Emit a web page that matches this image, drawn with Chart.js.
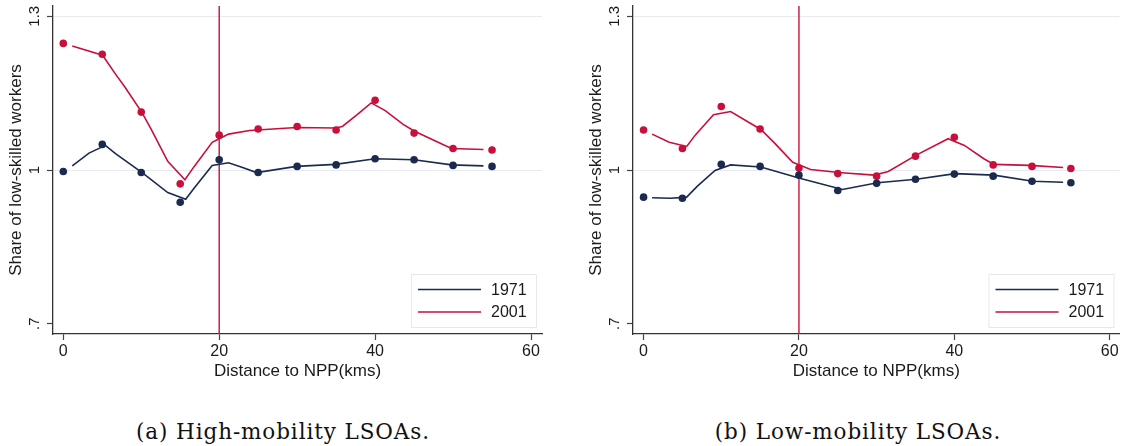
<!DOCTYPE html>
<html>
<head>
<meta charset="utf-8">
<script src="https://cdn.jsdelivr.net/npm/chart.js@4.4.1/dist/chart.umd.min.js"></script>
<style>
  body { margin: 0; background: #fff; width: 1124px; height: 446px; overflow: hidden; position: relative; }
  canvas { position: absolute; top: 0; }
  #panelA { left: 0; }
  #panelB { left: 580px; }
  .caption {
    position: absolute; top: 419px; font-family: "DejaVu Serif", serif; font-size: 21.5px;
    letter-spacing: 0.9px; color: #111; white-space: nowrap; transform: translateX(-50%);
  }
</style>
</head>
<body>
<canvas id="panelA" width="560" height="390"></canvas>
<canvas id="panelB" width="544" height="390"></canvas>
<div class="caption" style="left:283px">(a) High-mobility LSOAs.</div>
<div class="caption" style="left:858px">(b) Low-mobility LSOAs.</div>
<script>
// binned means (dots), every 5 km
const distBins = [0, 5, 10, 15, 20, 25, 30, 35, 40, 45, 50, 55];
const hi1971Dots = [0.997, 1.050, 0.995, 0.937, 1.020, 0.995, 1.007, 1.010, 1.022, 1.020, 1.009, 1.007];
const hi2001Dots = [1.247, 1.226, 1.113, 0.973, 1.068, 1.080, 1.085, 1.078, 1.136, 1.072, 1.042, 1.039];
const lo1971Dots = [0.947, 0.945, 1.011, 1.007, 0.990, 0.960, 0.974, 0.982, 0.992, 0.988, 0.978, 0.975];
const lo2001Dots = [1.078, 1.042, 1.124, 1.080, 1.004, 0.993, 0.988, 1.027, 1.064, 1.010, 1.007, 1.003];

// smoothed lines
const hi1971LineX = [1.15, 3.3, 5.4, 6.7, 10.2, 13.4, 15.7, 16.8, 19.1, 21.2, 23.0, 24.8, 29.9, 34.9, 40.0, 45.0, 49.8, 53.9];
const hi1971LineY = [1.008, 1.033, 1.048, 1.032, 0.994, 0.956, 0.943, 0.965, 1.009, 1.014, 1.005, 0.995, 1.007, 1.011, 1.022, 1.020, 1.010, 1.008];
const hi2001LineX = [1.15, 5.04, 6.7, 7.9, 10.1, 11.3, 13.4, 15.6, 16.8, 19.1, 20.0, 21.2, 23.9, 29.9, 34.9, 35.8, 37.7, 39.5, 41.3, 43.6, 45.0, 47.8, 49.8, 53.9];
const hi2001LineY = [1.242, 1.224, 1.187, 1.162, 1.112, 1.079, 1.017, 0.981, 1.007, 1.054, 1.061, 1.070, 1.077, 1.083, 1.082, 1.085, 1.108, 1.131, 1.116, 1.089, 1.076, 1.056, 1.042, 1.040];
const lo1971LineX = [1.1, 3.5, 5.55, 6.9, 9.2, 11.2, 15.1, 20.1, 25.6, 30.1, 35.1, 40.1, 45.1, 50.1, 54.0];
const lo1971LineY = [0.946, 0.945, 0.947, 0.968, 0.999, 1.010, 1.006, 0.984, 0.962, 0.975, 0.982, 0.993, 0.990, 0.978, 0.976];
const lo2001LineX = [1.1, 3.3, 5.55, 6.7, 9.0, 11.2, 15.1, 16.9, 19.2, 21.5, 25.1, 29.7, 31.5, 35.1, 39.2, 41.3, 43.8, 45.1, 49.7, 54.0];
const lo2001LineY = [1.070, 1.054, 1.046, 1.069, 1.108, 1.114, 1.079, 1.052, 1.015, 1.001, 0.995, 0.990, 0.997, 1.029, 1.061, 1.048, 1.022, 1.011, 1.009, 1.005];

const seriesLabels = ['1971', '2001'];
const xTicks = [0, 20, 40, 60];
const yTicks = [0.7, 1, 1.3];
const yTickLabels = ['.7', '1', '1.3'];
const cutoffKm = 20;

const NAVY = '#1b2a4e';
const RED = '#c90f3b';
const FONT = '"Liberation Sans", Arial, sans-serif';
const TEXT = '#1a1a1a';

function toPoints(xs, ys) {
    return xs.map((x, i) => ({ x: x, y: ys[i] }));
}

// vertical line, rotated y labels and the inset legend
const stataDecor = {
    id: 'stataDecor',
    beforeDatasetsDraw(chart) {
        const ctx = chart.ctx;
        const area = chart.chartArea;
        const px = chart.scales.x.getPixelForValue(cutoffKm);
        ctx.save();
        ctx.strokeStyle = RED;
        ctx.lineWidth = 1.4;
        ctx.beginPath();
        ctx.moveTo(px, area.top);
        ctx.lineTo(px, area.bottom);
        ctx.stroke();
        ctx.restore();
    },
    afterDraw(chart) {
        const ctx = chart.ctx;
        const area = chart.chartArea;
        const yScale = chart.scales.y;

        ctx.save();
        ctx.fillStyle = TEXT;
        ctx.font = '15px ' + FONT;
        ctx.textAlign = 'center';
        ctx.textBaseline = 'alphabetic';
        yTicks.forEach((v, i) => {
            ctx.save();
            ctx.translate(area.left - 14, yScale.getPixelForValue(v));
            ctx.rotate(-Math.PI / 2);
            ctx.fillText(yTickLabels[i], 0, 0);
            ctx.restore();
        });

        // legend
        const boxW = 125, boxH = 53;
        const bx = area.right - 6 - boxW;
        const by = area.bottom - 7 - boxH;
        ctx.fillStyle = '#fff';
        ctx.fillRect(bx, by, boxW, boxH);
        ctx.strokeStyle = '#e6e8f0';
        ctx.lineWidth = 1;
        ctx.strokeRect(bx + 0.5, by + 0.5, boxW, boxH);
        ctx.font = '16px ' + FONT;
        const legendColors = [NAVY, RED];
        seriesLabels.forEach((lab, i) => {
            const ly = by + 15.5 + i * 22.5;
            ctx.strokeStyle = legendColors[i];
            ctx.lineWidth = 1.6;
            ctx.beginPath();
            ctx.moveTo(bx + 7, ly);
            ctx.lineTo(bx + 70, ly);
            ctx.stroke();
            ctx.fillStyle = TEXT;
            ctx.textAlign = 'left';
            ctx.textBaseline = 'middle';
            ctx.fillText(lab, bx + 80, ly + 1);
        });
        ctx.restore();
    }
};

function makePanel(id, xMin, xMax, padRight, l71x, l71y, l01x, l01y, d71, d01) {
    return new Chart(document.getElementById(id), {
        type: 'scatter',
        data: {
            datasets: [
                { label: seriesLabels[0], data: toPoints(l71x, l71y), showLine: true, borderColor: NAVY, borderWidth: 1.6, pointRadius: 0, tension: 0 },
                { label: seriesLabels[1], data: toPoints(l01x, l01y), showLine: true, borderColor: RED, borderWidth: 1.6, pointRadius: 0, tension: 0 },
                { label: seriesLabels[0] + ' bins', data: toPoints(distBins, d71), showLine: false, pointRadius: 3.8, pointBackgroundColor: NAVY, pointBorderWidth: 0 },
                { label: seriesLabels[1] + ' bins', data: toPoints(distBins, d01), showLine: false, pointRadius: 3.8, pointBackgroundColor: RED, pointBorderWidth: 0 }
            ]
        },
        options: {
            responsive: false,
            animation: false,
            devicePixelRatio: 1,
            layout: { padding: { top: 6, right: padRight, left: 0, bottom: 0 } },
            plugins: { legend: { display: false }, tooltip: { enabled: false } },
            scales: {
                x: {
                    type: 'linear',
                    min: xMin,
                    max: xMax,
                    afterBuildTicks: (s) => { s.ticks = xTicks.map(v => ({ value: v })); },
                    afterFit: (s) => { s.height = 56; },
                    grid: { drawOnChartArea: false, tickLength: 6, tickColor: '#444', tickWidth: 1.2 },
                    border: { color: '#333', width: 1.3 },
                    ticks: { font: { size: 16, family: FONT }, color: TEXT, padding: 2, maxRotation: 0 },
                    title: { display: true, text: 'Distance to NPP(kms)', font: { size: 17, family: FONT }, color: TEXT, padding: { top: 0, bottom: 8 } }
                },
                y: {
                    min: 0.68,
                    max: 1.32,
                    afterBuildTicks: (s) => { s.ticks = yTicks.map(v => ({ value: v })); },
                    afterFit: (s) => { s.width = 53; },
                    grid: {
                        color: (c) => (c.tick && c.tick.value === 0.7) ? 'rgba(0,0,0,0)' : '#e8eaf1',
                        tickColor: '#444', tickLength: 6, tickWidth: 1.2
                    },
                    border: { color: '#333', width: 1.3 },
                    ticks: { display: false },
                    title: { display: true, text: 'Share of low-skilled workers', font: { size: 17, family: FONT }, color: TEXT, padding: { top: 6, bottom: 0 } }
                }
            }
        },
        plugins: [stataDecor]
    });
}

makePanel('panelA', -1.32, 61.41, 18, hi1971LineX, hi1971LineY, hi2001LineX, hi2001LineY, hi1971Dots, hi2001Dots);
makePanel('panelB', -1.36, 61.26, 4.5, lo1971LineX, lo1971LineY, lo2001LineX, lo2001LineY, lo1971Dots, lo2001Dots);
</script>
</body>
</html>
